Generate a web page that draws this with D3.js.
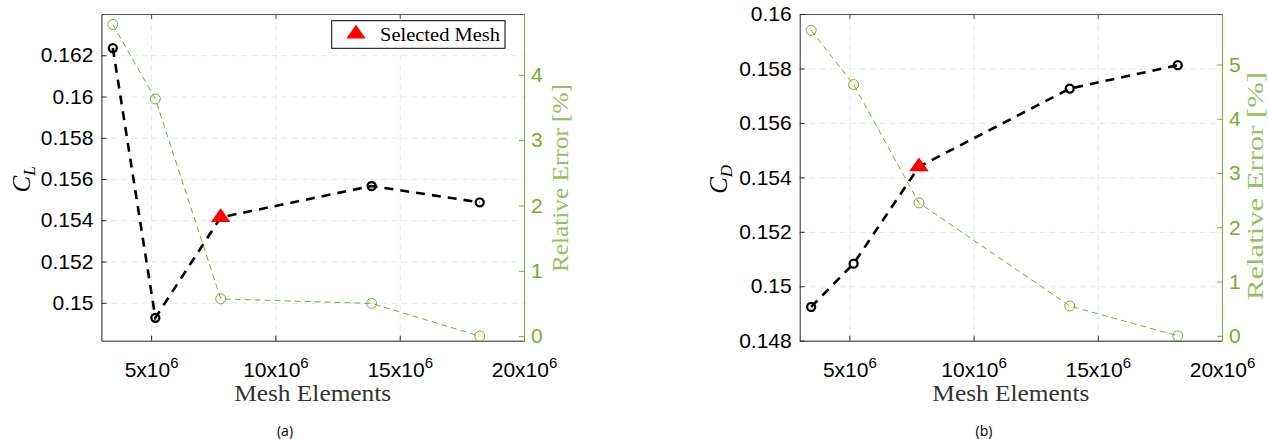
<!DOCTYPE html>
<html>
<head>
<meta charset="utf-8">
<script src="https://cdn.jsdelivr.net/npm/d3@7/dist/d3.min.js"></script>
<style>
  html, body { margin: 0; padding: 0; background: #fff; }
  svg { display: block; }
</style>
</head>
<body>
<svg id="chart" width="1268" height="439"></svg>
<script>
// ---------------- data ----------------
const meshElements = [3.46e6, 5.17e6, 7.80e6, 13.87e6, 18.22e6];
const clValues = [0.16235, 0.14927, 0.15414, 0.15566, 0.15487];
const clError = [4.77, 3.63, 0.57, 0.50, 0.0];
const cdValues = [0.14924, 0.15083, 0.15439, 0.15726, 0.15812];
const cdError = [5.63, 4.63, 2.45, 0.55, 0.0];
const selectedIndex = 2;

const xTicks = [5e6, 10e6, 15e6, 20e6];
const xTickLabels = ["5", "10", "15", "20"];
const clTicks = [0.15, 0.152, 0.154, 0.156, 0.158, 0.16, 0.162];
const cdTicks = [0.148, 0.15, 0.152, 0.154, 0.156, 0.158, 0.16];
const clErrTicks = [0, 1, 2, 3, 4];
const cdErrTicks = [0, 1, 2, 3, 4, 5];
const legendLabel = "Selected Mesh";
const xLabel = "Mesh Elements";
const errLabel = "Relative Error [%]";

// ---------------- styles ----------------
const GREEN = "#77ac30";
const GREEN_LABEL = "#95c060";
const AXIS = "#262626";
const GRID = "#dcecea";
const SANS = "'Liberation Sans', Arial, Helvetica, sans-serif";
const SERIF = "'Liberation Serif', 'Times New Roman', serif";

const svg = d3.select("#chart");
svg.append("rect").attr("width", 1268).attr("height", 439).attr("fill", "#fff");

function drawPanel(cfg) {
  const {left, right, top, bottom} = cfg;
  const g = svg.append("g");
  const x = d3.scaleLinear().domain([3e6, 20e6]).range([left, right]);
  const y = d3.scaleLinear().domain(cfg.yDomain).range([bottom, top]);
  const y2 = d3.scaleLinear().domain(cfg.y2Domain).range([bottom, top]);
  const W = right - left, H = bottom - top;

  // grid
  const gx = g.append("g").attr("transform", `translate(0,${bottom})`)
    .call(d3.axisBottom(x).tickValues(xTicks.filter(v => v < 20e6)).tickSize(-H).tickFormat(""));
  gx.select(".domain").remove();
  gx.selectAll("line").attr("stroke", GRID).attr("stroke-width", 1).attr("stroke-dasharray", "6,4");
  const gy = g.append("g").attr("transform", `translate(${left},0)`)
    .call(d3.axisLeft(y).tickValues(cfg.yTicks).tickSize(-W).tickFormat(""));
  gy.select(".domain").remove();
  gy.selectAll("line").attr("stroke", GRID).attr("stroke-width", 1).attr("stroke-dasharray", "6,4");

  // top axis (box)
  const ta = g.append("g").attr("transform", `translate(0,${top})`)
    .call(d3.axisTop(x).tickValues(xTicks).tickSizeInner(-5).tickSizeOuter(0).tickFormat(""));
  ta.selectAll("path,line").attr("stroke", "#555");

  // bottom axis
  const ba = g.append("g").attr("transform", `translate(0,${bottom})`)
    .call(d3.axisBottom(x).tickValues(xTicks).tickSizeInner(-5).tickSizeOuter(0).tickPadding(20));
  ba.selectAll("path,line").attr("stroke", AXIS);
  ba.selectAll("text").each(function(d, i) {
    const t = d3.select(this);
    t.text(null).attr("font-family", SANS).attr("font-size", 21).attr("fill", "#000")
      .attr("text-anchor", "middle").attr("dy", "0");
    t.attr("y", 36);
    t.append("tspan").text(xTickLabels[i] + "x10");
    t.append("tspan").attr("font-size", 15).attr("dy", -9).text("6");
  });

  // left axis
  const la = g.append("g").attr("transform", `translate(${left},0)`)
    .call(d3.axisLeft(y).tickValues(cfg.yTicks).tickSizeInner(-5).tickSizeOuter(0).tickPadding(8)
      .tickFormat(v => String(+v.toFixed(3))));
  la.selectAll("path,line").attr("stroke", AXIS);
  la.selectAll("text").attr("font-family", SANS).attr("font-size", 21).attr("fill", "#000");

  // right axis (green)
  const ra = g.append("g").attr("transform", `translate(${right},0)`)
    .call(d3.axisRight(y2).tickValues(cfg.y2Ticks).tickSizeInner(-5).tickSizeOuter(0).tickPadding(7)
      .tickFormat(d3.format("d")));
  ra.selectAll("path,line").attr("stroke", GREEN);
  ra.selectAll("text").attr("font-family", SANS).attr("font-size", 21).attr("fill", GREEN);

  // green error line
  const errLine = d3.line().x((d, i) => x(meshElements[i])).y(d => y2(d));
  g.append("path").datum(cfg.err).attr("d", errLine).attr("fill", "none")
    .attr("stroke", GREEN).attr("stroke-width", 1).attr("stroke-dasharray", "6,4");
  g.selectAll(null).data(cfg.err).enter().append("circle")
    .attr("cx", (d, i) => x(meshElements[i])).attr("cy", d => y2(d)).attr("r", 5)
    .attr("fill", "none").attr("stroke", GREEN).attr("stroke-width", 1);

  // black value line
  const valLine = d3.line().x((d, i) => x(meshElements[i])).y(d => y(d));
  g.append("path").datum(cfg.vals).attr("d", valLine).attr("fill", "none")
    .attr("stroke", "#000").attr("stroke-width", 2.6).attr("stroke-dasharray", "9,7");
  g.selectAll(null).data(cfg.vals.map((v, i) => ({v, i})).filter(d => d.i !== selectedIndex))
    .enter().append("circle")
    .attr("cx", d => x(meshElements[d.i])).attr("cy", d => y(d.v)).attr("r", 4)
    .attr("fill", "none").attr("stroke", "#000").attr("stroke-width", 2.3);

  // selected mesh triangle
  const tri = d3.symbol().type(d3.symbolTriangle).size(150);
  g.append("path").attr("d", tri())
    .attr("transform", `translate(${x(meshElements[selectedIndex])},${y(cfg.vals[selectedIndex])}) scale(1.05,0.85)`)
    .attr("fill", "#ff0000");

  // labels
  const mid = (left + right) / 2;
  g.append("text").attr("x", mid).attr("y", 401).attr("text-anchor", "middle")
    .attr("font-family", SERIF).attr("font-size", 23).attr("fill", "#333")
    .attr("textLength", 157).attr("lengthAdjust", "spacingAndGlyphs").text(xLabel);

  const yl = g.append("text").attr("transform", `translate(${cfg.ylabX},${(top + bottom) / 2 + 2}) rotate(-90)`)
    .attr("text-anchor", "middle").attr("font-family", SERIF).attr("font-style", "italic")
    .attr("font-size", 25).attr("fill", "#000");
  yl.append("tspan").text("C");
  yl.append("tspan").attr("font-size", 17).attr("dy", 5).text(cfg.sub);

  g.append("text").attr("transform", `translate(${cfg.errLabX},${cfg.errLabY}) rotate(-90)`)
    .attr("text-anchor", "middle").attr("font-family", SERIF).attr("font-size", 23)
    .attr("fill", GREEN_LABEL).attr("textLength", cfg.errLabLen).attr("lengthAdjust", "spacingAndGlyphs")
    .text(errLabel);

  g.append("text").attr("x", cfg.capX).attr("y", 436).attr("text-anchor", "middle")
    .attr("font-family", "'Open Sans', 'Noto Sans', sans-serif").attr("font-size", 14).attr("fill", "#000")
    .text(cfg.caption);

  return {g, x, y};
}

drawPanel({
  left: 101.4, right: 524, top: 14, bottom: 340.7,
  yDomain: [0.14816, 0.164], yTicks: clTicks,
  y2Domain: [-0.07, 4.93], y2Ticks: clErrTicks,
  vals: clValues, err: clError, sub: "L",
  ylabX: 30, errLabX: 568, errLabY: 178, errLabLen: 188, capX: 285, caption: "(a)"
});

drawPanel({
  left: 799.7, right: 1222, top: 14, bottom: 340.7,
  yDomain: [0.148, 0.16], yTicks: cdTicks,
  y2Domain: [-0.09, 5.93], y2Ticks: cdErrTicks,
  vals: cdValues, err: cdError, sub: "D",
  ylabX: 727, errLabX: 1263, errLabY: 186, errLabLen: 228, capX: 984, caption: "(b)"
});

// legend in panel (a)
const lg = svg.append("g");
lg.append("rect").attr("x", 331.7).attr("y", 20.7).attr("width", 173.3).attr("height", 27.6)
  .attr("fill", "#fff").attr("stroke", "#000").attr("stroke-width", 1);
lg.append("path").attr("d", d3.symbol().type(d3.symbolTriangle).size(150)())
  .attr("transform", "translate(356,34) scale(1.05,0.85)").attr("fill", "#ff0000");
lg.append("text").attr("x", 380).attr("y", 41).attr("font-family", SERIF).attr("font-size", 19)
  .attr("fill", "#000").attr("textLength", 120).attr("lengthAdjust", "spacingAndGlyphs").text(legendLabel);
</script>
</body>
</html>
